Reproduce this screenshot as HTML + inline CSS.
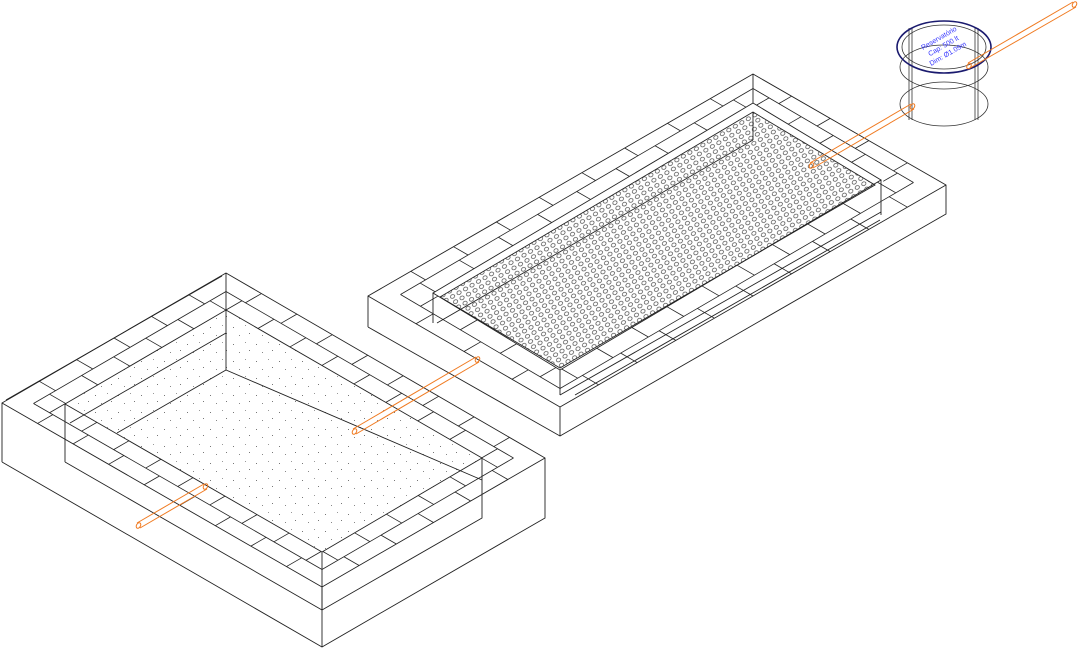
<!DOCTYPE html>
<html><head><meta charset="utf-8"><style>
html,body{margin:0;padding:0;background:#fff;}
svg{display:block;}
</style></head><body>
<svg id="s" width="1079" height="649" viewBox="0 0 1079 649" xmlns="http://www.w3.org/2000/svg">
<defs>
<pattern id="holes" width="7.5" height="6" patternUnits="userSpaceOnUse" patternTransform="rotate(-30)">
<ellipse cx="3.7" cy="3" rx="2.2" ry="1.8" fill="none" stroke="#333" stroke-width="0.7"/>
</pattern>
<pattern id="dots" width="23" height="17" patternUnits="userSpaceOnUse">
<rect x="3" y="4" width="1" height="1" fill="#777"/><rect x="15" y="2" width="1" height="1" fill="#999"/>
<rect x="9" y="12" width="1" height="1" fill="#888"/><rect x="19" y="10" width="1" height="1" fill="#777"/>
</pattern>
</defs>
<g id="g" fill="none" stroke="#222" stroke-width="0.9">
<!-- LEFT BOX -->
<polygon points="226,310 65,404 322,552 482,458" fill="url(#dots)" stroke="none"/>
<!-- outer -->
<polyline points="2,462 2,403 226,273 545,458 545,518 322,647 2,462"/>
<line x1="322" y1="587" x2="322" y2="647"/>
<polyline points="2,403 322,587 545,458"/>
<line x1="6" y1="400" x2="222" y2="276"/>
<!-- inner box -->
<polyline points="65,462 65,404 226,310 482,458 482,518 322,610 65,462"/>
<polyline points="65,404 322,552 482,458"/>
<line x1="322" y1="552" x2="322" y2="610"/>
<line x1="226" y1="273" x2="226" y2="370"/>
<polyline points="117,433 226,370 482,480"/>
<line x1="226" y1="333" x2="70" y2="423"/>

<!-- RIGHT BOX -->
<polygon points="440,297 753,112 875,185 560,368" fill="url(#holes)" stroke="#222"/>
<polyline points="368,327 368,296 753,74 946,185 946,214 560,436 368,327"/>
<polyline points="368,296 560,407 946,185"/>
<line x1="560" y1="407" x2="560" y2="436"/>
<line x1="753" y1="74" x2="753" y2="103"/>
<polygon points="433,293 753,103 881,180 560,370"/>
<line x1="433" y1="293" x2="433" y2="323"/>
<line x1="881" y1="180" x2="881" y2="215"/>
<line x1="560" y1="370" x2="560" y2="395"/>
<line x1="753" y1="112" x2="753" y2="140"/>
<line x1="753" y1="140" x2="437" y2="323"/>
<line x1="560" y1="395" x2="881" y2="212"/>
<line x1="575" y1="395" x2="880" y2="220"/>

<!-- CYLINDER -->
<g stroke="#333" stroke-width="0.8">
<ellipse cx="944" cy="67" rx="44" ry="22"/>
<ellipse cx="944" cy="104" rx="44" ry="22"/>
<line x1="909" y1="28" x2="909" y2="120"/><line x1="912" y1="28" x2="912" y2="120"/>
<line x1="975" y1="28" x2="975" y2="120"/><line x1="978" y1="28" x2="978" y2="120"/>
</g>
<ellipse cx="944" cy="47" rx="47" ry="26" stroke="#1a1a6e" stroke-width="1.6"/>
<ellipse cx="944" cy="47" rx="42" ry="22" stroke="#333" stroke-width="0.8"/>
</g>
<g font-family="Liberation Sans, sans-serif" font-size="7" fill="#3333ff" transform="rotate(-30 944 47)" text-anchor="middle">
<text x="944" y="39">Reservatório</text>
<text x="944" y="48">Cap: 500 lt</text>
<text x="944" y="57">Dim: Ø1.09m</text>
</g>

<!-- PIPES -->
<g fill="none" stroke="#f07a20" stroke-width="1">
<line x1="968" y1="63" x2="1073" y2="2"/><line x1="970" y1="68" x2="1076" y2="7"/>
<ellipse cx="1074.5" cy="4.5" rx="2" ry="3" transform="rotate(30 1074.5 4.5)"/>
<ellipse cx="969" cy="66" rx="2" ry="3" transform="rotate(30 969 66)"/>
<line x1="911" y1="104" x2="810" y2="163"/><line x1="914" y1="109" x2="813" y2="168"/>
<ellipse cx="912.5" cy="106.5" rx="2" ry="3" transform="rotate(30 912.5 106.5)"/>
<ellipse cx="811.5" cy="165.5" rx="2" ry="3" transform="rotate(30 811.5 165.5)"/>
<line x1="476" y1="357" x2="353" y2="429"/><line x1="479" y1="362" x2="356" y2="434"/>
<ellipse cx="477.5" cy="359.5" rx="2" ry="3" transform="rotate(30 477.5 359.5)"/>
<ellipse cx="354.5" cy="431.5" rx="2" ry="3" transform="rotate(30 354.5 431.5)"/>
<line x1="204" y1="484" x2="137" y2="523"/><line x1="207" y1="489" x2="140" y2="528"/>
<ellipse cx="205.5" cy="486.5" rx="2" ry="3" transform="rotate(30 205.5 486.5)"/>
<ellipse cx="138.5" cy="525.5" rx="2" ry="3" transform="rotate(30 138.5 525.5)"/>
</g>
</svg>
<script>
(function(){
var g=document.getElementById('g'),NS='http://www.w3.org/2000/svg';
function L(a,b){var l=document.createElementNS(NS,'line');l.setAttribute('x1',a[0]);l.setAttribute('y1',a[1]);l.setAttribute('x2',b[0]);l.setAttribute('y2',b[1]);l.setAttribute('stroke-width','0.8');g.insertBefore(l,g.firstChild);}
function lerp(a,b,t){return [a[0]+(b[0]-a[0])*t,a[1]+(b[1]-a[1])*t];}
function X(p,d,a,b){var ex=b[0]-a[0],ey=b[1]-a[1],den=d[0]*ey-d[1]*ex;var s=((a[0]-p[0])*ey-(a[1]-p[1])*ex)/den;return [p[0]+s*d[0],p[1]+s*d[1]];}
function band(o0,o1,i0,i1,n,d){var m0=lerp(o0,i0,.5),m1=lerp(o1,i1,.5);L(m0,m1);
for(var k=1;k<n;k++){var P=lerp(o0,o1,k/n);L(P,X(P,d,m0,m1));}
for(var k=0;k<n;k++){var P=lerp(m0,m1,(k+.5)/n);var Q=X(P,d,i0,i1);L(P,Q);}}
band([2,403],[226,273],[65,404],[226,310],6,[1,0.577]);
band([226,273],[545,458],[226,310],[482,458],9,[-1,0.577]);
band([2,403],[322,587],[65,404],[322,552],9,[1,-0.577]);
band([322,587],[545,458],[322,552],[482,458],6,[-1,-0.577]);
band([368,296],[753,74],[433,293],[753,103],9,[1,0.577]);
band([753,74],[946,185],[753,103],[881,180],5,[-1,0.577]);
band([368,296],[560,407],[433,293],[560,370],4,[1,-0.577]);
band([560,407],[946,185],[560,370],[881,180],10,[-1,-0.577]);
})();
</script>
</body></html>
